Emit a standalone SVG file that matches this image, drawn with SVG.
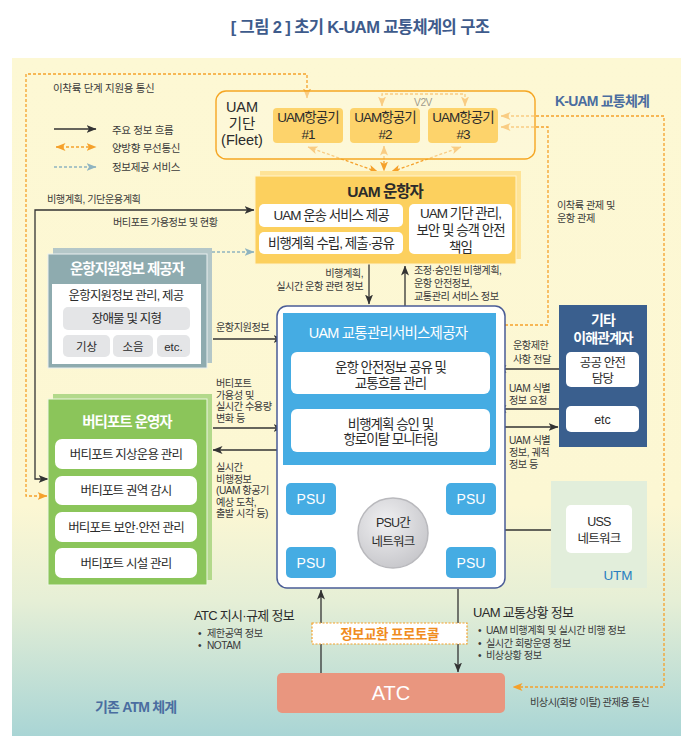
<svg xmlns="http://www.w3.org/2000/svg" width="694" height="750" viewBox="0 0 694 750">
<defs>
<linearGradient id="bg" x1="0" y1="58" x2="0" y2="736" gradientUnits="userSpaceOnUse">
<stop offset="0" stop-color="#fdf8d4"/>
<stop offset="0.66" stop-color="#fcf7d3"/>
<stop offset="0.8" stop-color="#e6efd6"/>
<stop offset="1" stop-color="#a9d5d5"/>
</linearGradient>
<radialGradient id="cg" cx="0.4" cy="0.35" r="0.7">
<stop offset="0" stop-color="#f0f0f2"/>
<stop offset="1" stop-color="#c6c6ca"/>
</radialGradient>
<marker id="ab" viewBox="0 0 10 8" refX="9.5" refY="4" markerWidth="10" markerHeight="8" markerUnits="userSpaceOnUse" orient="auto-start-reverse"><path d="M0,0 L10,4 L0,8 L2.5,4z" fill="#333"/></marker>
<marker id="ao" viewBox="0 0 10 8" refX="9.5" refY="4" markerWidth="10" markerHeight="8" markerUnits="userSpaceOnUse" orient="auto-start-reverse"><path d="M0,0 L10,4 L0,8 L2.5,4z" fill="#f5a12b"/></marker>
<marker id="ag" viewBox="0 0 10 8" refX="9.5" refY="4" markerWidth="10" markerHeight="8" markerUnits="userSpaceOnUse" orient="auto-start-reverse"><path d="M0,0 L10,4 L0,8 L2.5,4z" fill="#8fb4c0"/></marker>
</defs>
<style>
text{font-family:"Liberation Sans","Noto Sans CJK KR",sans-serif;fill:#2b2b2b}
.c{text-anchor:middle}
.r{text-anchor:end}
.m{font-size:13.5px;letter-spacing:-1px}
.v{font-size:12.5px;letter-spacing:-0.8px}
.l{font-size:10.2px;letter-spacing:-0.5px;fill:#3a3a3a}
.lg{font-size:10.5px;letter-spacing:-0.3px;fill:#3a3a3a}
.wt{font-size:14.5px;font-weight:bold;letter-spacing:-1px;fill:#fff}
.sec{font-size:14px;font-weight:bold;letter-spacing:-0.8px;fill:#4a6da0}
.ar{stroke:#333;stroke-width:1.3;fill:none}
.od{stroke:#f5a12b;stroke-width:1.3;stroke-dasharray:3 2;fill:none}
.gd{stroke:#8fb4c0;stroke-width:1.3;stroke-dasharray:3 2;fill:none}
.wb{fill:#fff}
.ac{fill:#fdd36b}
.psu{fill:#45ace3}
.psut{font-size:14px;fill:#fff}
</style>

<rect x="12" y="58" width="669" height="678" fill="url(#bg)"/>
<text x="360" y="33" class="c" style="font-size:16.5px;font-weight:bold;fill:#3e5b8c;letter-spacing:-0.6px">[ 그림 2 ]  초기 K-UAM 교통체계의 구조</text>

<g id="legend">
<text x="53" y="92" class="lg">이착륙 단계 지원용 통신</text>
<path class="ar" d="M54,129 H96" marker-end="url(#ab)"/>
<text x="112" y="134" class="lg">주요 정보 흐름</text>
<path class="od" d="M56,147 H96" marker-start="url(#ao)" marker-end="url(#ao)"/>
<text x="112" y="152" class="lg">양방향 무선통신</text>
<path class="gd" d="M54,167 H96" marker-end="url(#ag)"/>
<text x="112" y="171" class="lg">정보제공 서비스</text>
</g>

<text x="555" y="106" class="sec">K-UAM 교통체계</text>
<text x="95" y="712" class="sec">기존 ATM 체계</text>

<g id="connectors">
<path class="od" d="M307,98 V74 H26 V496 H47" marker-start="url(#ao)" marker-end="url(#ao)"/>
<path class="od" d="M382,106 V94 H465 V106" marker-start="url(#ao)" marker-end="url(#ao)"/>
<path class="od" d="M501,116 H664 V687 H513" marker-start="url(#ao)" marker-end="url(#ao)"/>
<path class="od" d="M501,127 H548 V325 H496" marker-start="url(#ao)" marker-end="url(#ao)"/>
<path class="od" d="M308,147 L378,172" marker-start="url(#ao)" marker-end="url(#ao)"/>
<path class="od" d="M384,146 V171" marker-start="url(#ao)" marker-end="url(#ao)"/>
<path class="od" d="M461,147 L391,172" marker-start="url(#ao)" marker-end="url(#ao)"/>
<path class="ar" d="M48,479 H35 V210 H254" marker-start="url(#ab)" marker-end="url(#ab)"/>
<path class="gd" d="M212,252 H254" marker-end="url(#ag)"/>
<path class="ar" d="M213,339 H283" marker-end="url(#ab)"/>
<path class="ar" d="M213,428 H283" marker-end="url(#ab)"/>
<path class="ar" d="M283,450 H213" marker-end="url(#ab)"/>
<path class="ar" d="M369,264 V304" marker-end="url(#ab)"/>
<path class="ar" d="M405,306 V266" marker-end="url(#ab)"/>
<path class="ar" d="M559,369 H497" marker-end="url(#ab)"/>
<path class="ar" d="M559,409 H497" marker-end="url(#ab)"/>
<path class="ar" d="M496,427 H558" marker-end="url(#ab)"/>
<path class="ar" d="M390,466 V496" marker-start="url(#ab)" marker-end="url(#ab)"/>
<path class="ar" d="M339,498 L357,512" marker-start="url(#ab)" marker-end="url(#ab)"/>
<path class="ar" d="M443,498 L425,512" marker-start="url(#ab)" marker-end="url(#ab)"/>
<path class="ar" d="M339,567 L357,553" marker-start="url(#ab)" marker-end="url(#ab)"/>
<path class="ar" d="M443,567 L425,553" marker-start="url(#ab)" marker-end="url(#ab)"/>
<path class="ar" d="M430,530 H564" marker-start="url(#ab)" marker-end="url(#ab)"/>
<path class="ar" d="M321,673 V590" marker-end="url(#ab)"/>
<path class="ar" d="M458,589 V672" marker-end="url(#ab)"/>
</g>

<g id="labels">
<text x="47" y="203" class="l">비행계획, 기단운용계획</text>
<text x="113" y="226" class="l">버티포트 가용정보 및 현황</text>
<text class="l r" y="277"><tspan x="363">비행계획,</tspan><tspan x="363" dy="13">실시간 운항 관련 정보</tspan></text>
<text class="l" y="274"><tspan x="414">조정·승인된 비행계획,</tspan><tspan x="414" dy="13">운항 안전정보,</tspan><tspan x="414" dy="13">교통관리 서비스 정보</tspan></text>
<text x="216" y="331" class="l">운항지원정보</text>
<text class="l" y="387"><tspan x="216">버티포트</tspan><tspan x="216" dy="11.6">가용성 및</tspan><tspan x="216" dy="11.6">실시간 수용량</tspan><tspan x="216" dy="11.6">변화 등</tspan></text>
<text class="l" y="471"><tspan x="216">실시간</tspan><tspan x="216" dy="11.6">비행정보</tspan><tspan x="216" dy="11.6">(UAM 항공기</tspan><tspan x="216" dy="11.6">예상 도착,</tspan><tspan x="216" dy="11.6">출발 시각 등)</tspan></text>
<text class="l" y="349"><tspan x="513">운항제한</tspan><tspan x="513" dy="13.5">사항 전달</tspan></text>
<text class="l" y="392"><tspan x="509">UAM 식별</tspan><tspan x="509" dy="12">정보 요청</tspan></text>
<text class="l" y="444"><tspan x="509">UAM 식별</tspan><tspan x="509" dy="11.8">정보, 궤적</tspan><tspan x="509" dy="11.8">정보 등</tspan></text>
<text class="l" y="209"><tspan x="557">이착륙 관제 및</tspan><tspan x="557" dy="12.5">운항 관제</tspan></text>
<text x="530" y="706" class="l">비상시(회랑 이탈) 관제용 통신</text>
<text x="423" y="106" class="l c">V2V</text>
<text x="194" y="620" style="font-size:13px;letter-spacing:-0.7px">ATC 지시·규제 정보</text>
<text class="l" y="637"><tspan x="198">•</tspan><tspan x="207">제한공역 정보</tspan><tspan x="198" dy="12">•</tspan><tspan x="207">NOTAM</tspan></text>
<text x="473" y="617" style="font-size:13px;letter-spacing:-0.7px">UAM 교통상황 정보</text>
<text class="l" y="634"><tspan x="478">•</tspan><tspan x="486">UAM 비행계획 및 실시간 비행 정보</tspan><tspan x="478" dy="12.5">•</tspan><tspan x="486">실시간 회랑운영 정보</tspan><tspan x="478" dy="12.5">•</tspan><tspan x="486">비상상황 정보</tspan></text>
</g>

<g id="fleet">
<rect x="216" y="91" width="319" height="68" rx="10" fill="#fef8dc" fill-opacity="0.5" stroke="#f5a623" stroke-width="1.4"/>
<text class="c" style="font-size:14.5px" y="112"><tspan x="242">UAM</tspan><tspan x="242" dy="16.5">기단</tspan><tspan x="242" dy="16.5">(Fleet)</tspan></text>
</g>
<g id="aircraft1">
<rect x="273" y="108" width="70" height="35" rx="4" class="ac"/>
<text class="m c" y="121.5"><tspan x="308">UAM항공기</tspan><tspan x="308" dy="17">#1</tspan></text>
</g>
<g id="aircraft2">
<rect x="350" y="108" width="70" height="35" rx="4" class="ac"/>
<text class="m c" y="121.5"><tspan x="385">UAM항공기</tspan><tspan x="385" dy="17">#2</tspan></text>
</g>
<g id="aircraft3">
<rect x="428" y="108" width="70" height="35" rx="4" class="ac"/>
<text class="m c" y="121.5"><tspan x="463">UAM항공기</tspan><tspan x="463" dy="17">#3</tspan></text>
</g>

<g id="uam-operator">
<rect x="260" y="171" width="261" height="88" fill="#fee396"/>
<rect x="255" y="176" width="261" height="88" fill="#fcd05e" stroke="#fff3cc" stroke-width="1"/>
<text x="385" y="197" class="c" style="font-size:15.5px;font-weight:bold;letter-spacing:-1px">UAM 운항자</text>
<rect x="259" y="204" width="144" height="23" rx="5" class="wb"/>
<text x="331" y="220" class="m c">UAM 운송 서비스 제공</text>
<rect x="259" y="232" width="144" height="22" rx="5" class="wb"/>
<text x="331" y="247.5" class="m c">비행계획 수립, 제출·공유</text>
<rect x="409" y="204" width="103" height="50" rx="5" class="wb"/>
<text class="m c" y="217.5"><tspan x="460.5">UAM 기단 관리,</tspan><tspan x="460.5" dy="17">보안 및 승객 안전</tspan><tspan x="460.5" dy="17">책임</tspan></text>
</g>

<g id="nav-info-provider">
<rect x="53" y="248" width="159" height="115" fill="#b4c7c8"/>
<rect x="48" y="254" width="159" height="114" fill="#8eabaf" stroke="#e9efef" stroke-width="1"/>
<text x="127" y="274" class="wt c">운항지원정보 제공자</text>
<rect x="52" y="284" width="149" height="80" fill="#fff"/>
<text x="126" y="300" class="v c">운항지원정보 관리, 제공</text>
<rect x="63" y="307" width="127" height="23" rx="5" fill="#e4e5e7"/>
<text x="126.5" y="323" class="v c">장애물 및 지형</text>
<rect x="63" y="335" width="47" height="22" rx="5" fill="#e4e5e7"/>
<text x="86.5" y="350.5" class="c" style="font-size:11.5px">기상</text>
<rect x="113" y="335" width="40" height="22" rx="5" fill="#e4e5e7"/>
<text x="133" y="350.5" class="c" style="font-size:11.5px">소음</text>
<rect x="157" y="335" width="33" height="22" rx="5" fill="#e4e5e7"/>
<text x="173.5" y="350.5" class="c" style="font-size:11.5px">etc.</text>
</g>

<g id="vertiport-operator">
<rect x="53" y="394" width="159" height="186" fill="#b3d98b"/>
<rect x="48" y="399" width="159" height="186" fill="#8bc55a" stroke="#eef6e4" stroke-width="1"/>
<text x="127" y="427" class="wt c">버티포트 운영자</text>
<rect x="55" y="439" width="142" height="30" rx="7" class="wb"/>
<text x="126" y="458.5" class="v c">버티포트 지상운용 관리</text>
<rect x="55" y="476" width="142" height="29" rx="7" class="wb"/>
<text x="126" y="495" class="v c">버티포트 권역 감시</text>
<rect x="55" y="512" width="142" height="30" rx="7" class="wb"/>
<text x="126" y="531.5" class="v c">버티포트 보안·안전 관리</text>
<rect x="55" y="548" width="142" height="30" rx="7" class="wb"/>
<text x="126" y="567.5" class="v c">버티포트 시설 관리</text>
</g>

<g id="traffic-mgmt">
<rect x="277" y="306" width="228" height="282" rx="10" fill="#fff" stroke="#4a5c96" stroke-width="1.5"/>
<rect x="283" y="313" width="213" height="152" fill="#45ace3"/>
<text x="388" y="338" class="c" style="font-size:14.5px;letter-spacing:-0.8px;fill:#fff">UAM 교통관리서비스제공자</text>
<rect x="291" y="352" width="199" height="42" rx="6" class="wb"/>
<text class="m c" y="371.5"><tspan x="390.5">운항 안전정보 공유 및</tspan><tspan x="390.5" dy="16">교통흐름 관리</tspan></text>
<rect x="291" y="409" width="199" height="43" rx="6" class="wb"/>
<text class="m c" y="428.5"><tspan x="390.5">비행계획 승인 및</tspan><tspan x="390.5" dy="15.5">항로이탈 모니터링</tspan></text>
</g>

<g id="psu1"><rect x="286" y="483" width="50" height="32" rx="5" class="psu"/><text x="311" y="504" class="psut c">PSU</text></g>
<g id="psu2"><rect x="446" y="483" width="50" height="32" rx="5" class="psu"/><text x="471" y="504" class="psut c">PSU</text></g>
<g id="psu3"><rect x="286" y="547" width="50" height="31" rx="5" class="psu"/><text x="311" y="567.5" class="psut c">PSU</text></g>
<g id="psu4"><rect x="446" y="547" width="50" height="31" rx="5" class="psu"/><text x="471" y="567.5" class="psut c">PSU</text></g>
<g id="psu-network">
<circle cx="393" cy="533" r="35" fill="url(#cg)" stroke="#b9b9bd" stroke-width="1.5"/>
<text class="v c" y="527"><tspan x="393">PSU간</tspan><tspan x="393" dy="19">네트워크</tspan></text>
</g>

<g id="other-stakeholders">
<rect x="559" y="305" width="88" height="142" fill="#3a5f8e"/>
<text class="c" style="font-size:14px;font-weight:bold;letter-spacing:-1px;fill:#fff" y="325"><tspan x="603">기타</tspan><tspan x="603" dy="18">이해관계자</tspan></text>
<rect x="566" y="352" width="73" height="35" rx="5" class="wb"/>
<text class="v c" y="366.5"><tspan x="602.5">공공 안전</tspan><tspan x="602.5" dy="16.5">담당</tspan></text>
<rect x="566" y="406" width="73" height="26" rx="5" class="wb"/>
<text x="602.5" y="423.5" class="c" style="font-size:12.5px">etc</text>
</g>

<g id="utm">
<rect x="551" y="481" width="96" height="107" fill="#e2eedb"/>
<rect x="566" y="505" width="66" height="48" rx="5" class="wb"/>
<text class="v c" y="526"><tspan x="599">USS</tspan><tspan x="599" dy="17">네트워크</tspan></text>
<text x="618" y="580" class="c" style="font-size:13.5px;fill:#2a7fc0">UTM</text>
</g>

<g id="protocol">
<rect x="312" y="623" width="155" height="21" fill="#fff" stroke="#f5a12b" stroke-width="1.2" stroke-dasharray="2 1.5"/>
<text x="389.5" y="638.5" class="c" style="font-size:13.5px;font-weight:bold;letter-spacing:-0.5px;fill:#f08c1e">정보교환 프로토콜</text>
</g>

<g id="atc">
<rect x="277" y="673" width="228" height="40" rx="5" fill="#e9967f"/>
<text x="391" y="700" class="c" style="font-size:20px;fill:#fff">ATC</text>
</g>
</svg>
